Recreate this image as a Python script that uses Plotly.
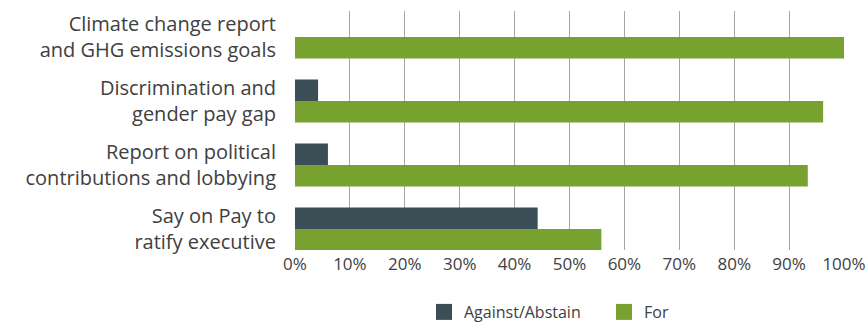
import plotly.graph_objects as go

categories = [
    "Climate change report<br>and GHG emissions goals",
    "Discrimination and<br>gender pay gap",
    "Report on political<br>contributions and lobbying",
    "Say on Pay to<br>ratify executive",
]
against = [0, 4.2, 6.0, 44.2]
for_vals = [100, 96.2, 93.4, 55.8]
series_names = ["Against/Abstain", "For"]
x_ticks = list(range(0, 101, 10))
x_labels = [f"{v}%" for v in x_ticks]

DARK = "#3b4e56"
GREEN = "#78a22f"
TEXT = "#404040"
FONT = "Open Sans"

fig = go.Figure()
for name, vals, col in zip(series_names, [against, for_vals], [DARK, GREEN]):
    fig.add_trace(go.Bar(y=categories, x=vals, orientation="h", name=name,
                         marker=dict(color=col, line=dict(width=0)), showlegend=False))
# legend entries with larger square swatches
for name, col in zip(series_names, [DARK, GREEN]):
    fig.add_trace(go.Scatter(x=[None], y=[None], mode="markers", name=name,
                             marker=dict(symbol="square", size=16, color=col)))

fig.update_layout(
    width=866, height=323,
    margin=dict(l=295, r=22, t=11, b=73),
    paper_bgcolor="white", plot_bgcolor="white",
    barmode="group", bargap=0.328, bargroupgap=0,
    font=dict(family=FONT, color=TEXT),
    legend=dict(orientation="h", xref="container", x=424 / 866, xanchor="left",
                yref="container", y=1 - 312 / 323, yanchor="middle",
                font=dict(size=16, family=FONT, color=TEXT),
                entrywidth=135, entrywidthmode="pixels",
                traceorder="normal", bgcolor="rgba(0,0,0,0)"),
    showlegend=True,
)
fig.update_xaxes(range=[0, 100], tickvals=x_ticks, ticktext=x_labels,
                 showgrid=True, gridcolor="#a6a6a6", gridwidth=1.3,
                 zeroline=False, showline=False, automargin=False,
                 tickfont=dict(size=17, family=FONT, color=TEXT), ticks="",
                 ticklabelstandoff=2)
fig.update_yaxes(range=[3.328, -0.406], showgrid=False, zeroline=False,
                 showline=False, automargin=False, ticks="",
                 tickfont=dict(size=20, family=FONT, color=TEXT),
                 ticklabelstandoff=18)

fig.write_html("out.html")
